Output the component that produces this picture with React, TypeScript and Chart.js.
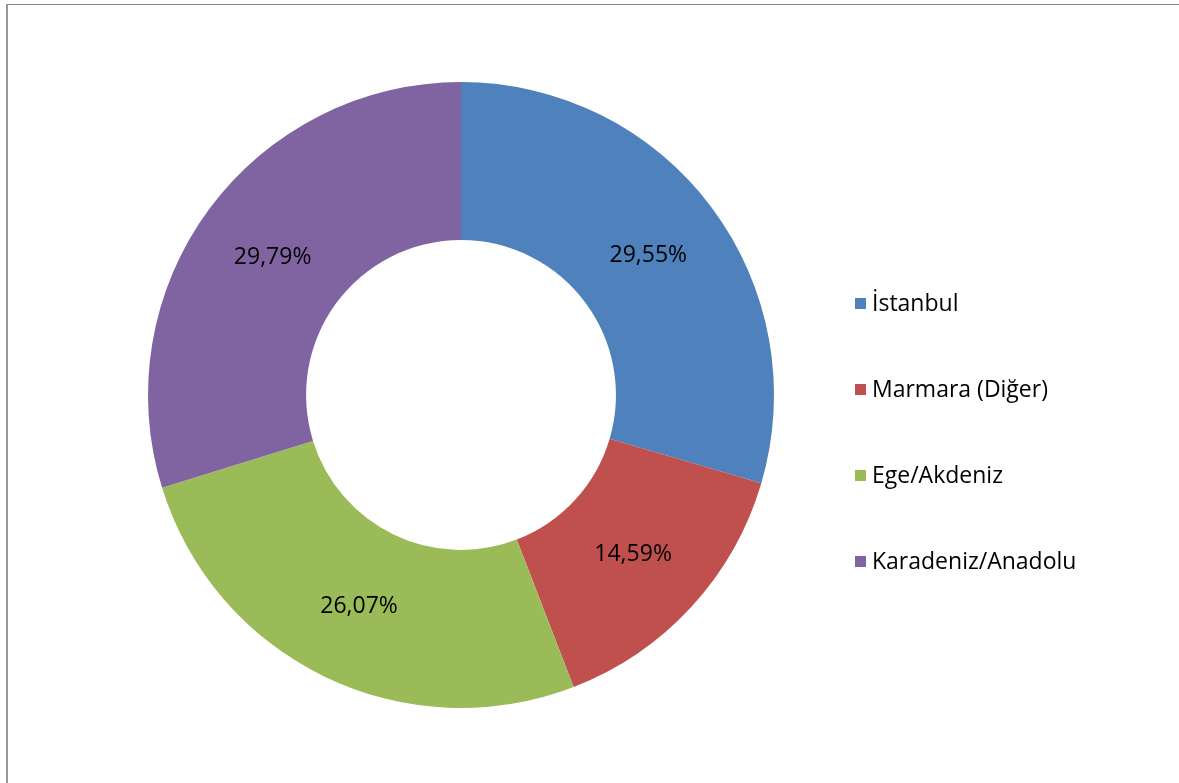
import React, { useEffect, useRef } from "react";
import { Chart, registerables } from "chart.js";

Chart.register(...registerables);

const categories = ["İstanbul", "Marmara (Diğer)", "Ege/Akdeniz", "Karadeniz/Anadolu"];
const shares = [29.55, 14.59, 26.07, 29.79];
const colors = ["#4F81BD", "#C0504D", "#9BBB59", "#8064A2"];

const FONT = "'Open Sans', 'Noto Sans', sans-serif";

const labelPlugin = {
  id: "sliceLabels",
  afterDatasetsDraw(chart: any) {
    const ctx = chart.ctx;
    const meta = chart.getDatasetMeta(0);
    ctx.save();
    ctx.font = `23px ${FONT}`;
    ctx.fillStyle = "#000000";
    ctx.textAlign = "center";
    ctx.textBaseline = "middle";
    meta.data.forEach((arc: any, i: number) => {
      const p = arc.getCenterPoint();
      const txt = shares[i].toFixed(2).replace(".", ",") + "%";
      ctx.fillText(txt, p.x, p.y + 1);
    });
    ctx.restore();
  },
};

const legendPlugin = {
  id: "sideLegend",
  afterDraw(chart: any) {
    const ctx = chart.ctx;
    ctx.save();
    ctx.font = `23px ${FONT}`;
    ctx.textAlign = "left";
    ctx.textBaseline = "middle";
    categories.forEach((c, i) => {
      const cy = 303.5 + 86 * i;
      ctx.fillStyle = colors[i];
      ctx.fillRect(855, cy - 5.5, 11, 11);
      ctx.fillStyle = "#000000";
      ctx.fillText(c, 872, cy + 1);
    });
    ctx.restore();
  },
};

export default function App() {
  const ref = useRef<HTMLCanvasElement | null>(null);
  useEffect(() => {
    if (!ref.current) return;
    const chart = new Chart(ref.current, {
      type: "doughnut",
      data: {
        labels: categories,
        datasets: [
          {
            data: shares,
            backgroundColor: colors,
            borderWidth: 0,
          },
        ],
      },
      options: {
        animation: false,
        responsive: false,
        cutout: "49.5%",
        layout: { padding: { left: 148, top: 82, right: 405, bottom: 75 } },
        plugins: {
          legend: { display: false },
          tooltip: { enabled: false },
        },
      },
      plugins: [labelPlugin, legendPlugin],
    });
    return () => chart.destroy();
  }, []);
  return (
    <div style={{ position: "fixed", left: 0, top: 0, width: 1179, height: 783, background: "#fff" }}>
      <div
        style={{
          position: "absolute",
          left: 6,
          top: 4,
          width: 1179,
          height: 790,
          borderLeft: "2px solid #999999",
          borderTop: "1px solid #888888",
          boxSizing: "border-box",
        }}
      />
      <canvas ref={ref} width={1179} height={783} style={{ position: "absolute", left: 0, top: 0 }} />
    </div>
  );
}
